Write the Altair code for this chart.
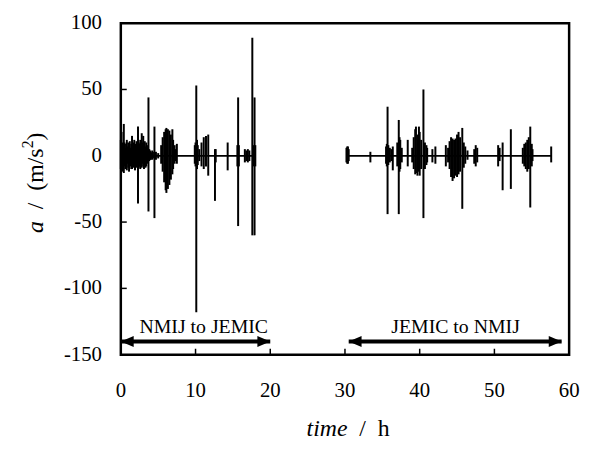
import altair as alt
import pandas as pd

# ---- NMIJ -> JEMIC leg: time [h], max / min acceleration [m/s^2] ----
t1 = [0.0, 0.1, 0.2, 0.3, 0.4, 0.5, 0.6, 0.7, 0.8, 0.9, 1.0, 1.1, 1.2, 1.3, 1.4,
      1.5, 1.6, 1.7, 1.8, 1.9, 2.0, 2.1, 2.2, 2.3, 2.4, 2.5, 2.6, 2.7, 2.8, 2.9,
      3.0, 3.1, 3.2, 3.3, 3.4, 3.5, 3.6, 3.7, 3.8, 3.9, 4.0, 4.1, 4.2, 4.3, 4.5,
      4.7, 5.0, 5.4, 5.6, 5.8, 6.0, 6.1, 6.3, 6.5, 6.7, 6.9, 7.0, 7.2, 7.3, 7.5,
      9.9, 10.0, 10.1, 10.2, 10.3, 10.5, 10.8, 11.1, 11.4, 11.7, 12.6, 12.7,
      14.3, 15.6, 15.7, 15.8, 16.6, 16.8, 17.0, 17.2, 17.6, 17.8, 17.9, 18.0]
hi1 = [12, 18, 10, 8, 24, 10, 6, 9, 12, 7, 10, 8, 11, 6, 9,
       15, 8, 10, 12, 7, 9, 11, 8, 22, 10, 9, 12, 8, 17, 10,
       15, 9, 11, 7, 10, 8, 6, 44, 5, 4, 3, 2, 4, 3, 22,
       3, 2, 8, 14, 18, 20, 21, 20, 19, 16, 20, 12, 8, 5, 9,
       8, 10, 53, 12, 8, 5, 10, 14, 15, 16, 5, 5,
       10, 8, 44, 8, 5, 4, 5, 4, 89, 8, 44, 8]
lo1 = [-10, -8, -12, -6, -13, -8, -10, -7, -11, -6, -9, -12, -7, -8, -10,
       -10, -7, -9, -8, -11, -6, -9, -7, -36, -9, -8, -10, -7, -9, -6,
       -8, -10, -7, -9, -8, -6, -5, -42, -4, -3, -3, -2, -3, -2, -47,
       -3, -2, -6, -12, -20, -26, -28, -25, -22, -18, -14, -10, -6, -4, -6,
       -6, -8, -118, -10, -7, -4, -8, -10, -8, -15, -34, -5,
       -11, -8, -53, -8, -5, -4, -5, -4, -60, -8, -60, -8]

# ---- JEMIC -> NMIJ leg ----
t2 = [30.2, 30.3, 30.4, 30.5, 33.4, 35.5, 35.6, 35.7, 35.8, 36.0, 36.2, 36.4,
      37.0, 37.2, 37.3, 37.4, 37.6, 38.4, 39.0, 39.2, 39.4, 39.5, 39.7, 39.9,
      40.0, 40.2, 40.5, 40.7, 40.9, 41.0, 41.7, 42.1, 43.5, 43.8, 44.0, 44.2,
      44.4, 44.6, 44.8, 45.0, 45.2, 45.4, 45.7, 45.9, 46.1, 46.4, 47.3, 47.5,
      47.7, 50.5, 50.7, 51.1, 52.2, 53.8, 54.0, 54.2, 54.4, 54.6, 54.8, 55.0,
      55.1, 57.6]
hi2 = [6, 7, 7, 5, 3, 7, 9, 37, 8, 6, 5, 7,
       10, 27, 14, 12, 6, 12, 6, 14, 20, 22, 16, 22,
       18, 12, 50, 10, 8, 6, 5, 7, 8, 6, 11, 14,
       13, 12, 13, 16, 18, 14, 21, 10, 7, 4, 5, 8,
       6, 8, 6, 10, 20, 6, 9, 10, 12, 14, 22, 9,
       5, 7]
lo2 = [-5, -6, -6, -4, -5, -6, -8, -44, -7, -5, -4, -11,
       -8, -44, -12, -10, -5, -8, -5, -10, -14, -13, -15, -12,
       -15, -10, -47, -10, -7, -5, -5, -6, -8, -5, -10, -16,
       -19, -17, -15, -16, -14, -12, -40, -9, -6, -3, -6, -8,
       -5, -8, -4, -26, -25, -6, -8, -10, -12, -10, -39, -8,
       -4, -5]

base_start = [0.0, 30.3]
base_end = [18.0, 57.6]

x_ticks = [0, 10, 20, 30, 40, 50, 60]
y_ticks = [-150, -100, -50, 0, 50, 100]
x_inner_ticks = [10, 20, 30, 40, 50]
y_inner_ticks = [-100, -50, 0, 50]

route_labels = ["NMIJ to JEMIC", "JEMIC to NMIJ"]
route_label_x = [11.1, 44.8]
route_label_y = [-134, -134]
arrow_start = [0.0, 30.5]
arrow_end = [20.0, 59.0]
arrow_y = [-140, -140]

W, H = 453, 335
FONT = "Liberation Serif"
NB = "\u00a0"

spikes = pd.DataFrame({"t": t1 + t2, "hi": hi1 + hi2, "lo": lo1 + lo2})
base = pd.DataFrame({"t": base_start, "t2": base_end, "a": [0, 0]})
arrows = pd.DataFrame({"t": arrow_start, "t2": arrow_end, "a": arrow_y})
labels = pd.DataFrame({"t": route_label_x, "a": route_label_y, "txt": route_labels})
xlab = pd.DataFrame({"t": x_ticks, "txt": [str(v) for v in x_ticks]})
ylab = pd.DataFrame({"a": y_ticks, "txt": [str(v) for v in y_ticks]})

xs = alt.Scale(domain=[0, 60], nice=False, zero=False)
ys = alt.Scale(domain=[-150, 100], nice=False, zero=False)

spike_layer = alt.Chart(spikes).mark_rule(color="black", strokeWidth=2).encode(
    x=alt.X("t:Q", scale=xs, axis=None),
    y=alt.Y("hi:Q", scale=ys, axis=None),
    y2="lo:Q",
)

base_layer = alt.Chart(base).mark_rule(color="black", strokeWidth=1.8).encode(
    x=alt.X("t:Q", scale=xs, axis=None), x2="t2:Q",
    y=alt.Y("a:Q", scale=ys, axis=None)
)

xtick_layer = alt.Chart(pd.DataFrame({"t": x_inner_ticks})).mark_rule(
    color="black", strokeWidth=1.5
).encode(x=alt.X("t:Q", scale=xs, axis=None), y=alt.value(H), y2=alt.value(H - 6))

ytick_layer = alt.Chart(pd.DataFrame({"a": y_inner_ticks})).mark_rule(
    color="black", strokeWidth=1.5
).encode(y=alt.Y("a:Q", scale=ys, axis=None), x=alt.value(0), x2=alt.value(6))

xlab_layer = alt.Chart(xlab).mark_text(
    font=FONT, fontSize=21, color="black", align="center", baseline="alphabetic"
).encode(x=alt.X("t:Q", scale=xs, axis=None), y=alt.value(H + 43), text="txt:N")

ylab_layer = alt.Chart(ylab).mark_text(
    font=FONT, fontSize=21, color="black", align="right", baseline="middle"
).encode(y=alt.Y("a:Q", scale=ys, axis=None), x=alt.value(-19), text="txt:N")

arrow_line = alt.Chart(arrows).mark_rule(color="black", strokeWidth=4).encode(
    x=alt.X("t:Q", scale=xs, axis=None), x2="t2:Q",
    y=alt.Y("a:Q", scale=ys, axis=None)
)
head_left = alt.Chart(arrows).mark_point(
    shape="M-1,0L1,-0.85L1,0.85Z", filled=True, color="black", opacity=1,
    size=170, xOffset=6.5
).encode(x=alt.X("t:Q", scale=xs, axis=None), y=alt.Y("a:Q", scale=ys, axis=None))
head_right = alt.Chart(arrows).mark_point(
    shape="M1,0L-1,-0.85L-1,0.85Z", filled=True, color="black", opacity=1,
    size=170, xOffset=-6.5
).encode(x=alt.X("t2:Q", scale=xs, axis=None), y=alt.Y("a:Q", scale=ys, axis=None))

route_text = alt.Chart(labels).mark_text(
    font=FONT, fontSize=20, color="black", align="center", baseline="alphabetic"
).encode(x=alt.X("t:Q", scale=xs, axis=None), y=alt.Y("a:Q", scale=ys, axis=None),
         text="txt:N")

# x-axis title: "time / h"
XS = 229
xt_it = alt.Chart(pd.DataFrame({"s": ["time"]})).mark_text(
    font=FONT, fontSize=24, fontStyle="italic", color="black",
    align="right", baseline="alphabetic"
).encode(text="s:N", x=alt.value(XS), y=alt.value(417))
xt_rm = alt.Chart(pd.DataFrame({"s": ["/" + NB + NB + "h"]})).mark_text(
    font=FONT, fontSize=24, color="black", align="left", baseline="alphabetic"
).encode(text="s:N", x=alt.value(XS + 12), y=alt.value(417))

# y-axis title: "a / (m/s^2)" rotated
YX = -79
yt_a = alt.Chart(pd.DataFrame({"s": ["a"]})).mark_text(
    font=FONT, fontSize=24, fontStyle="italic", color="black", angle=270,
    align="left", baseline="alphabetic"
).encode(text="s:N", x=alt.value(YX), y=alt.value(212))
yt_b = alt.Chart(pd.DataFrame({"s": ["/" + NB + NB + "(m/s"]})).mark_text(
    font=FONT, fontSize=24, color="black", angle=270,
    align="left", baseline="alphabetic"
).encode(text="s:N", x=alt.value(YX), y=alt.value(188))
yt_2 = alt.Chart(pd.DataFrame({"s": ["2"]})).mark_text(
    font=FONT, fontSize=16, color="black", angle=270,
    align="left", baseline="alphabetic"
).encode(text="s:N", x=alt.value(YX - 10), y=alt.value(126.5))
yt_c = alt.Chart(pd.DataFrame({"s": [")"]})).mark_text(
    font=FONT, fontSize=24, color="black", angle=270,
    align="left", baseline="alphabetic"
).encode(text="s:N", x=alt.value(YX), y=alt.value(118.5))

chart = alt.layer(
    spike_layer, base_layer, xtick_layer, ytick_layer, xlab_layer, ylab_layer,
    arrow_line, head_left, head_right, route_text,
    xt_it, xt_rm, yt_a, yt_b, yt_2, yt_c
).properties(
    width=W, height=H,
    background="white",
    autosize=alt.AutoSizeParams(type="none"),
    padding={"left": 114, "top": 13, "right": 12, "bottom": 95},
).configure_view(
    stroke="black", strokeWidth=2.5
)

chart.save("out.html", embed_options={"renderer": "svg", "actions": False})
